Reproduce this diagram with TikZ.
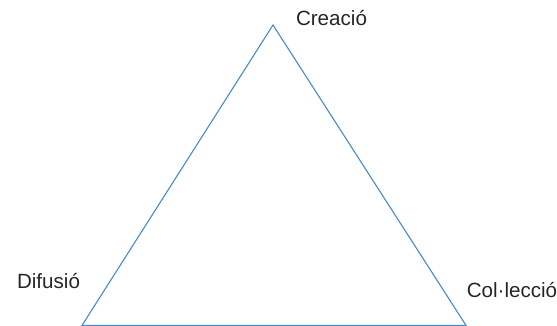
\documentclass[tikz,border=0pt]{standalone}
\usepackage{fontspec}
\setmainfont{Liberation Sans}
\definecolor{edgeblue}{RGB}{66,140,210}

\begin{document}
\begin{tikzpicture}[x=1pt,y=1pt,
  label text/.style={anchor=base,inner sep=0pt,font=\fontsize{20.6}{24}\selectfont,text=black!85}]
\useasboundingbox (0,0) rectangle (557,326);
\coordinate (top) at (273,301);
\coordinate (left) at (82,0.6);
\coordinate (right) at (466,0.6);
\draw [edgeblue, line width=1.1pt, line join=miter] (top) -- (right) -- (left) -- cycle;
\node [label text] (creacio) at (331.5,300) {Creació};
\node [label text] (difusio) at (48.5,37.5) {Difusió};
\node [label text] (colleccio) at (512,28) {Col·lecció};
\end{tikzpicture}
\end{document}
